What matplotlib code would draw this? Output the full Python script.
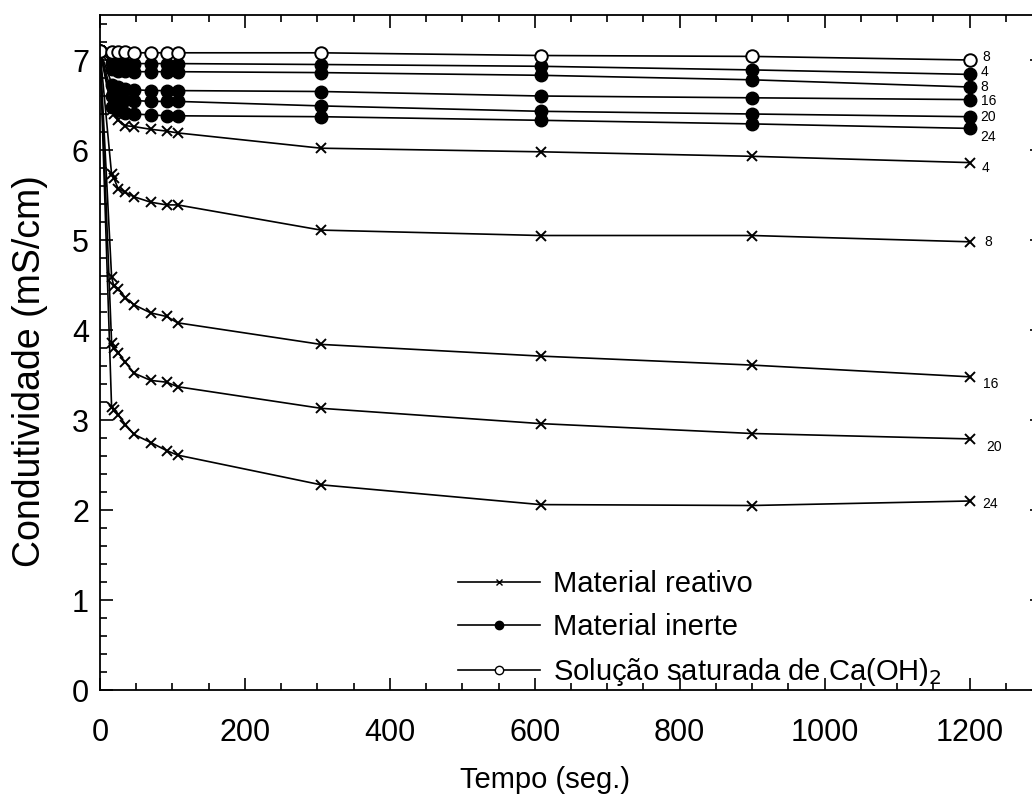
import matplotlib
matplotlib.use("Agg")
import matplotlib.pyplot as plt
from matplotlib.lines import Line2D
from matplotlib.ticker import MultipleLocator

plt.rcParams['font.family'] = ['Liberation Sans', 'DejaVu Sans']

# ---- data ----
t_reat = [0, 16, 19, 25, 35, 47, 70, 92, 107, 305, 608, 900, 1200]
t_circ = [0, 17, 25, 35, 47, 70, 92, 107, 305, 608, 900, 1200]

reat_labels = ["4", "8", "16", "20", "24"]
reat_vals = [
    [7.1, 6.45, 6.40, 6.33, 6.27, 6.26, 6.23, 6.21, 6.19, 6.02, 5.98, 5.93, 5.86],
    [7.1, 5.73, 5.69, 5.57, 5.53, 5.48, 5.42, 5.39, 5.39, 5.11, 5.05, 5.05, 4.98],
    [7.1, 4.59, 4.49, 4.46, 4.36, 4.28, 4.19, 4.15, 4.08, 3.84, 3.71, 3.61, 3.48],
    [7.1, 3.86, 3.80, 3.75, 3.64, 3.52, 3.44, 3.42, 3.37, 3.13, 2.96, 2.85, 2.79],
    [7.1, 3.14, 3.11, 3.06, 2.95, 2.84, 2.75, 2.66, 2.61, 2.28, 2.06, 2.05, 2.10],
]

inert_labels = ["4", "8", "16", "20", "24"]
inert_vals = [
    [7.1, 6.97, 6.96, 6.96, 6.96, 6.96, 6.96, 6.96, 6.95, 6.93, 6.89, 6.84],
    [7.1, 6.90, 6.88, 6.88, 6.87, 6.87, 6.87, 6.87, 6.86, 6.83, 6.78, 6.70],
    [7.1, 6.72, 6.70, 6.68, 6.67, 6.66, 6.66, 6.66, 6.65, 6.60, 6.58, 6.56],
    [7.1, 6.60, 6.57, 6.56, 6.55, 6.54, 6.54, 6.54, 6.49, 6.43, 6.40, 6.37],
    [7.1, 6.48, 6.44, 6.41, 6.40, 6.39, 6.38, 6.38, 6.37, 6.33, 6.29, 6.24],
]

sat_label = "8"
sat_vals = [7.1, 7.09, 7.09, 7.09, 7.08, 7.08, 7.08, 7.08, 7.08, 7.05, 7.04, 7.00]

legend_labels = ["Material reativo", "Material inerte", "Solução saturada de Ca(OH)$_2$"]

# ---- figure ----
fig = plt.figure(figsize=(10.32, 8.01), dpi=100)
ax = fig.add_axes([100/1032, (801-690)/801, (1042-100)/1032, (690-15)/801])

lw = 1.2
for vals, lab, dx, dy in zip(reat_vals, reat_labels, [9, 11, 10, 12, 9], [-4, 0, -5, -6, -2]):
    ax.plot(t_reat, vals, color='black', lw=lw, marker='x', ms=7, mew=1.4)
    ax.annotate(lab, (t_reat[-1], vals[-1]), xytext=(dx, dy), textcoords='offset points',
                ha='left', va='center', fontsize=10)

for vals, lab, dy in zip(inert_vals, inert_labels, [2, 0, -1, 0, -6]):
    ax.plot(t_circ, vals, color='black', lw=lw, marker='o', ms=9, mfc='black', mec='black')
    ax.annotate(lab, (t_circ[-1], vals[-1]), xytext=(8, dy), textcoords='offset points',
                ha='left', va='center', fontsize=10)

ax.plot(t_circ, sat_vals, color='black', lw=lw, marker='o', ms=9, mfc='white', mec='black', mew=1.4)
ax.annotate(sat_label, (t_circ[-1], sat_vals[-1]), xytext=(9, 2), textcoords='offset points',
            ha='left', va='center', fontsize=10)

ax.set_xlim(0, 1300)
ax.set_ylim(0, 7.5)
ax.xaxis.set_major_locator(MultipleLocator(200))
ax.xaxis.set_minor_locator(MultipleLocator(50))
ax.yaxis.set_major_locator(MultipleLocator(1))
ax.yaxis.set_minor_locator(MultipleLocator(0.2))
ax.tick_params(which='both', direction='in', top=True, right=True, width=1.2, labelsize=22)
ax.tick_params(axis='x', which='both', pad=20)
ax.tick_params(axis='y', which='both', pad=8)
ax.tick_params(which='major', length=9)
ax.tick_params(which='minor', length=5)
for s in ax.spines.values():
    s.set_linewidth(1.3)

ax.set_xlabel("Tempo (seg.)", fontsize=21)
ax.xaxis.set_label_coords(0.4724, -0.113)
ax.set_ylabel("Condutividade (mS/cm)", fontsize=27)
ax.yaxis.set_label_coords(-0.055, 0.4726)

handles = [
    Line2D([], [], color='black', lw=1.2, marker='x', ms=5, mew=1.0),
    Line2D([], [], color='black', lw=1.2, marker='o', ms=6, mfc='black'),
    Line2D([], [], color='black', lw=1.2, marker='o', ms=6, mfc='white', mew=1.0),
]
ax.legend(handles, legend_labels, loc='upper left', bbox_to_anchor=(0.368, 0.195),
          frameon=False, fontsize=21, handlelength=2.8, handletextpad=0.45,
          labelspacing=0.51, borderaxespad=0)

fig.savefig("out.png", dpi=100)
